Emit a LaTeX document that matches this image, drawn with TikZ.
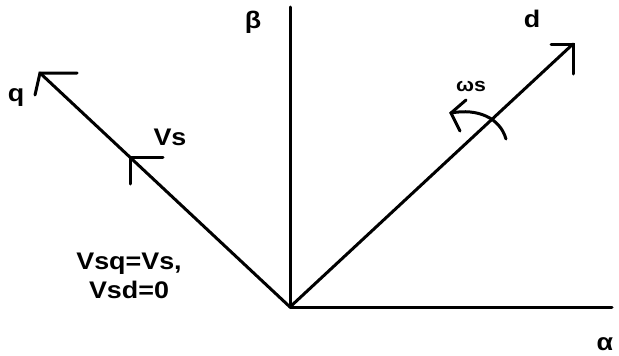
\documentclass[tikz,border=0pt]{standalone}
\usepackage{fontspec}
\setmainfont{Liberation Sans}
\begin{document}
\begin{tikzpicture}[x=1pt,y=-1pt,
  axis/.style={line width=3pt,line cap=round},
  lbl/.style={font=\fontsize{24}{29}\selectfont\bfseries,inner sep=0pt,transform shape,xscale=1.12}]
\useasboundingbox (0,0) rectangle (619,356);
\coordinate (O) at (290,307);
\coordinate (B) at (290,7);
\coordinate (A) at (612,307);
\coordinate (D) at (573,44);
\coordinate (Q) at (40,73);
\coordinate (V) at (130,157);
% axes
\draw[axis] (O) -- (B);
\draw[axis] (O) -- (A);
\draw[axis] (O) -- (D);
\draw[axis] (O) -- (Q);
% arrowheads
\draw[axis] (551,44) -- (D) -- (573,74);
\draw[axis] (77,73) -- (Q) -- (35,95);
\draw[axis] (163,157) -- (V) -- (130,184);
% omega arc
\coordinate (W1) at (506,139);
\coordinate (W2) at (451,113);
\draw[axis] (W1) .. controls (500,118) and (478,108) .. (W2);
\draw[axis] (466,100) -- (W2) -- (460,131);
% labels
\node[lbl] (lq) at (16,98) {q};
\node[lbl] (lv) at (170,137) {Vs};
\node[lbl] (ld) at (532,19) {d};
\node[lbl] (lw) at (471,86) {\fontsize{19}{22}\selectfont ωs};
\node[lbl] (lb) at (253,22) {β};
\node[lbl] (la) at (605,344) {α};
\node[lbl,align=center] (eq) at (129,276) {Vsq=Vs,\\Vsd=0};
\end{tikzpicture}
\end{document}
